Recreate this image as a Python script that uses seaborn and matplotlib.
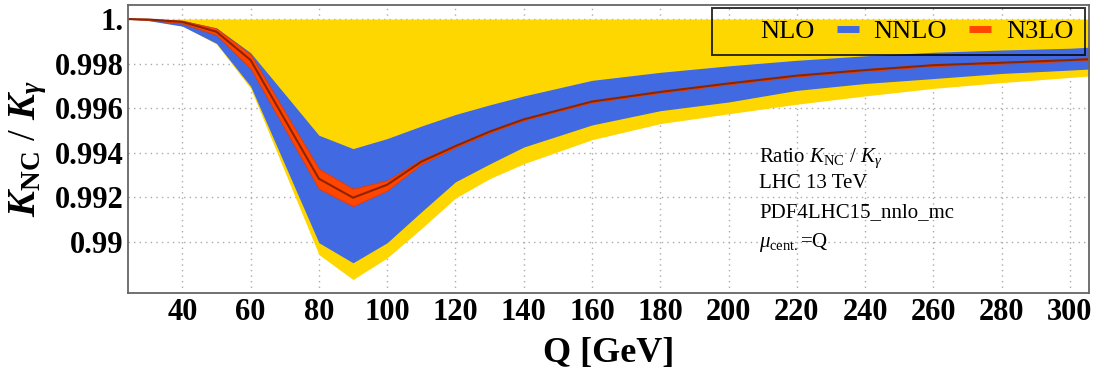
import numpy as np
import pandas as pd
import matplotlib
matplotlib.use('Agg')
import matplotlib.pyplot as plt
import seaborn as sns

# ---- data ----
q = [24, 30, 40, 50, 60, 80, 90, 100, 110, 120, 130, 140, 160, 180, 200, 220, 240, 260, 280, 300, 306]

nlo_hi = [1.0] * len(q)
nlo_lo = [1.0, 0.99995, 0.99970, 0.99888, 0.99689, 0.98944, 0.98832, 0.98929, 0.99060, 0.99197,
          0.99284, 0.99351, 0.99459, 0.99531, 0.99575, 0.99618, 0.99655, 0.99689, 0.99715, 0.99738, 0.99745]

nnlo_hi = [1.0, 1.0, 0.99993, 0.99960, 0.99849, 0.99479, 0.99419, 0.99464, 0.99520, 0.99572,
           0.99615, 0.99655, 0.99725, 0.99761, 0.99790, 0.99815, 0.99835, 0.99851, 0.99861, 0.99869, 0.99874]
nnlo_lo = [1.0, 0.99993, 0.99968, 0.99891, 0.99699, 0.98997, 0.98907, 0.98997, 0.99135, 0.99270,
           0.99350, 0.99426, 0.99525, 0.99589, 0.99628, 0.99680, 0.99711, 0.99733, 0.99756, 0.99771, 0.99776]

n3lo_c = [1.0, 0.99998, 0.99987, 0.99943, 0.99816, 0.99284, 0.99199, 0.99257, 0.99360, 0.99430,
          0.99495, 0.99550, 0.99630, 0.99673, 0.99711, 0.99746, 0.99771, 0.99793, 0.99804, 0.99816, 0.99820]
n3lo_hi = [1.0, 1.0, 0.99993, 0.99958, 0.99841, 0.99329, 0.99239, 0.99277, 0.99370, 0.99436,
           0.99500, 0.99554, 0.99634, 0.99677, 0.99715, 0.99750, 0.99775, 0.99797, 0.99808, 0.99820, 0.99824]
n3lo_lo = [1.0, 0.99996, 0.99980, 0.99928, 0.99778, 0.99239, 0.99161, 0.99231, 0.99350, 0.99424,
           0.99490, 0.99546, 0.99626, 0.99669, 0.99707, 0.99742, 0.99767, 0.99789, 0.99800, 0.99812, 0.99816]

x_ticks = list(range(40, 301, 20))
y_ticks = [0.99, 0.992, 0.994, 0.996, 0.998, 1.0]
y_labels = ['0.99', '0.992', '0.994', '0.996', '0.998', '1.']

info_lines = [r'Ratio $K_{\mathrm{NC}}$ / $K_{\gamma}$', 'LHC 13 TeV', 'PDF4LHC15_nnlo_mc',
              r'$\mu_{\mathrm{cent.}}$=Q']

df = pd.DataFrame({'Q': q, 'n3lo': n3lo_c})

# ---- style ----
sns.set_style("white")
plt.rcParams['font.family'] = ['Liberation Serif', 'DejaVu Serif']
plt.rcParams['mathtext.fontset'] = 'custom'
plt.rcParams['mathtext.rm'] = 'Liberation Serif'
plt.rcParams['mathtext.it'] = 'Liberation Serif:italic'
plt.rcParams['mathtext.bf'] = 'Liberation Serif:bold'
plt.rcParams['mathtext.bfit'] = 'Liberation Serif:bold:italic'
for k in ('text.color', 'axes.labelcolor', 'xtick.color', 'ytick.color'):
    plt.rcParams[k] = 'black'

yellow = '#FFD700'
blue = '#4169E1'
red = '#FF4500'
dark = '#8B2500'

fig = plt.figure(figsize=(11.02, 3.72), dpi=100)
ax = fig.add_axes([0.1159, 0.2132, 0.8723, 0.7742])

ax.fill_between(q, nlo_lo, nlo_hi, color=yellow, lw=0, label='NLO')
ax.fill_between(q, nnlo_lo, nnlo_hi, color=blue, lw=0, label='NNLO')
ax.fill_between(q, n3lo_lo, n3lo_hi, color=red, lw=0.6, edgecolor='#E03C00', label='N3LO')
sns.lineplot(data=df, x='Q', y='n3lo', ax=ax, color=dark, lw=1.5, legend=False)

ax.set_xlim(24, 305.6)
ax.set_ylim(0.98773, 1.000643)

ax.set_xticks(x_ticks)
ax.set_xticklabels([str(t) for t in x_ticks], fontsize=22, fontweight='bold')
ax.set_yticks(y_ticks)
ax.set_yticklabels(y_labels, fontsize=22, fontweight='bold')
ax.tick_params(axis='x', direction='in', length=8.6, width=1.1, color='#222222', pad=4)
ax.tick_params(axis='y', direction='in', length=13.5, width=1.1, color='#222222', pad=3)

ax.grid(True, linestyle=(0, (1, 3)), color='#aaaaaa', lw=1.0)
ax.set_axisbelow(True)
for s in ax.spines.values():
    s.set_color('#666666')
    s.set_linewidth(1.3)

ax.set_xlabel('Q [GeV]', fontsize=26, fontweight='bold', labelpad=7)
ax.set_ylabel(r'$\mathbfit{K}_{\mathbf{NC}}$ / $\mathbfit{K}_{\mathbfit{\gamma}}$', fontsize=28, labelpad=4)

# legend with short thick line handles
handles = [plt.Line2D([], [], color=c, lw=5, solid_capstyle='butt') for c in (yellow, blue, red)]
leg = ax.legend(handles, ['NLO', 'NNLO', 'N3LO'], loc='upper right', bbox_to_anchor=(0.996, 0.989),
                borderaxespad=0, ncol=3, fontsize=19, frameon=True, fancybox=False,
                handlelength=0.83, handletextpad=0.55, columnspacing=0.85, borderpad=0.45)
leg.get_frame().set_facecolor('none')
leg.get_frame().set_edgecolor('black')
leg.get_frame().set_linewidth(1.4)

ys = [0.4549, 0.3635, 0.2639, 0.1597]
for t, yy in zip(info_lines, ys):
    ax.text(0.6567, yy, t, transform=ax.transAxes, fontsize=15, va='baseline', ha='left')

fig.savefig('out.png', dpi=100)
